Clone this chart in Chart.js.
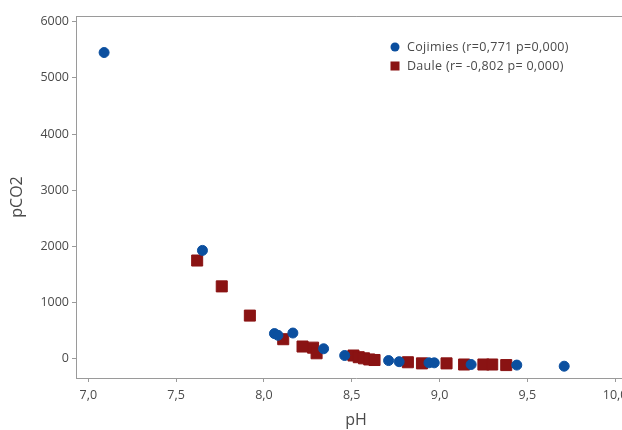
<!DOCTYPE html>
<html>
<head>
<meta charset="utf-8">
<script src="https://cdn.jsdelivr.net/npm/chart.js@4/dist/chart.umd.min.js"></script>
<style>
  html, body { margin: 0; padding: 0; background: #fff; overflow: hidden; }
  #wrap { width: 645px; height: 430px; }
</style>
</head>
<body>
<div id="wrap"><canvas id="grafico"></canvas></div>
<script>
  // Cojimies
  const cojimiesPH   = [7.09, 7.65, 8.06, 8.08, 8.165, 8.34, 8.46, 8.71, 8.77, 8.94, 8.97, 9.18, 9.44, 9.71];
  const cojimiesPCO2 = [5450, 1930, 450, 420, 460, 180, 60, -30, -50, -70, -70, -100, -110, -130];

  // Daule
  const daulePH   = [7.62, 7.76, 7.92, 8.11, 8.22, 8.28, 8.30, 8.51, 8.54, 8.57, 8.60, 8.63, 8.82, 8.90, 9.04, 9.14, 9.25, 9.30, 9.38];
  const daulePCO2 = [1750, 1290, 770, 350, 220, 200, 100, 60, 30, 10, -10, -20, -60, -80, -80, -100, -100, -100, -110];

  const xTicks = [7.0, 7.5, 8.0, 8.5, 9.0, 9.5, 10.0];
  const xTickLabels = ["7,0", "7,5", "8,0", "8,5", "9,0", "9,5", "10,0"];
  const yTicks = [0, 1000, 2000, 3000, 4000, 5000, 6000];

  const legendLabels = ["Cojimies (r=0,771 p=0,000)", "Daule (r= -0,802 p= 0,000)"];

  const AZUL = "#0b4f9f";
  const VINHO = "#8a1313";
  const CINZA = "#9a9a9a";
  const TEXTO = "#4a4a4a";
  const FONTE = "'Open Sans', 'Noto Sans', sans-serif";

  function pontos(xs, ys) {
    return xs.map((x, i) => ({ x: x, y: ys[i] }));
  }

  // linha superior da moldura + legenda dentro da área do gráfico
  const extras = {
    id: "extras",
    afterDraw(chart) {
      const ctx = chart.ctx;
      const a = chart.chartArea;
      ctx.save();
      ctx.strokeStyle = CINZA;
      ctx.lineWidth = 1;
      ctx.beginPath();
      ctx.moveTo(a.left, a.top + 0.5);
      ctx.lineTo(a.right, a.top + 0.5);
      ctx.stroke();

      ctx.font = "12.5px " + FONTE;
      ctx.letterSpacing = "0.3px";
      ctx.textBaseline = "middle";
      const lx = 395, ly = [47, 66];
      chart.data.datasets.forEach((ds, i) => {
        ctx.fillStyle = ds.backgroundColor;
        if (ds.pointStyle === "rect") {
          ctx.fillRect(lx - 4.5, ly[i] - 4.5, 9, 9);
        } else {
          ctx.beginPath();
          ctx.arc(lx, ly[i], 4.5, 0, Math.PI * 2);
          ctx.fill();
        }
        ctx.fillStyle = TEXTO;
        ctx.fillText(legendLabels[i], lx + 12, ly[i]);
      });
      ctx.restore();
    }
  };

  const ctx = document.getElementById("grafico").getContext("2d");
  new Chart(ctx, {
    type: "scatter",
    data: {
      datasets: [
        {
          label: "Cojimies",
          data: pontos(cojimiesPH, cojimiesPCO2),
          backgroundColor: AZUL,
          borderColor: AZUL,
          pointStyle: "circle",
          pointRadius: 5,
          pointHoverRadius: 5
        },
        {
          label: "Daule",
          data: pontos(daulePH, daulePCO2),
          backgroundColor: VINHO,
          borderColor: VINHO,
          pointStyle: "rect",
          pointRadius: 7.8,
          pointHoverRadius: 7.8
        }
      ]
    },
    options: {
      responsive: true,
      maintainAspectRatio: false,
      animation: false,
      layout: { padding: { top: 16, right: 0, left: 0, bottom: 0 } },
      plugins: {
        legend: { display: false },
        tooltip: { enabled: false }
      },
      scales: {
        x: {
          type: "linear",
          min: 6.93,
          max: 10.12,
          afterBuildTicks: s => { s.ticks = xTicks.map(v => ({ value: v })); },
          afterFit: s => { s.height = 52; },
          ticks: {
            callback: v => xTickLabels[xTicks.indexOf(v)],
            color: TEXTO,
            font: { size: 12.5, family: FONTE },
            padding: 6,
            maxRotation: 0
          },
          grid: { drawOnChartArea: false, drawTicks: true, tickLength: 4, color: CINZA },
          border: { display: true, color: CINZA },
          title: {
            display: true,
            text: "pH",
            color: TEXTO,
            font: { size: 16, family: FONTE },
            padding: { top: 0, bottom: 0 }
          }
        },
        y: {
          type: "linear",
          min: -340,
          max: 6100,
          afterBuildTicks: s => { s.ticks = yTicks.map(v => ({ value: v })); },
          afterFit: s => { s.width = 76; },
          ticks: {
            callback: v => String(v),
            color: TEXTO,
            font: { size: 12.5, family: FONTE },
            padding: 3
          },
          grid: { drawOnChartArea: false, drawTicks: true, tickLength: 4, color: CINZA },
          border: { display: true, color: CINZA },
          title: {
            display: true,
            text: "pCO2",
            color: TEXTO,
            font: { size: 16, family: FONTE },
            padding: { top: 8, bottom: 0 }
          }
        }
      }
    },
    plugins: [extras]
  });
</script>
</body>
</html>
